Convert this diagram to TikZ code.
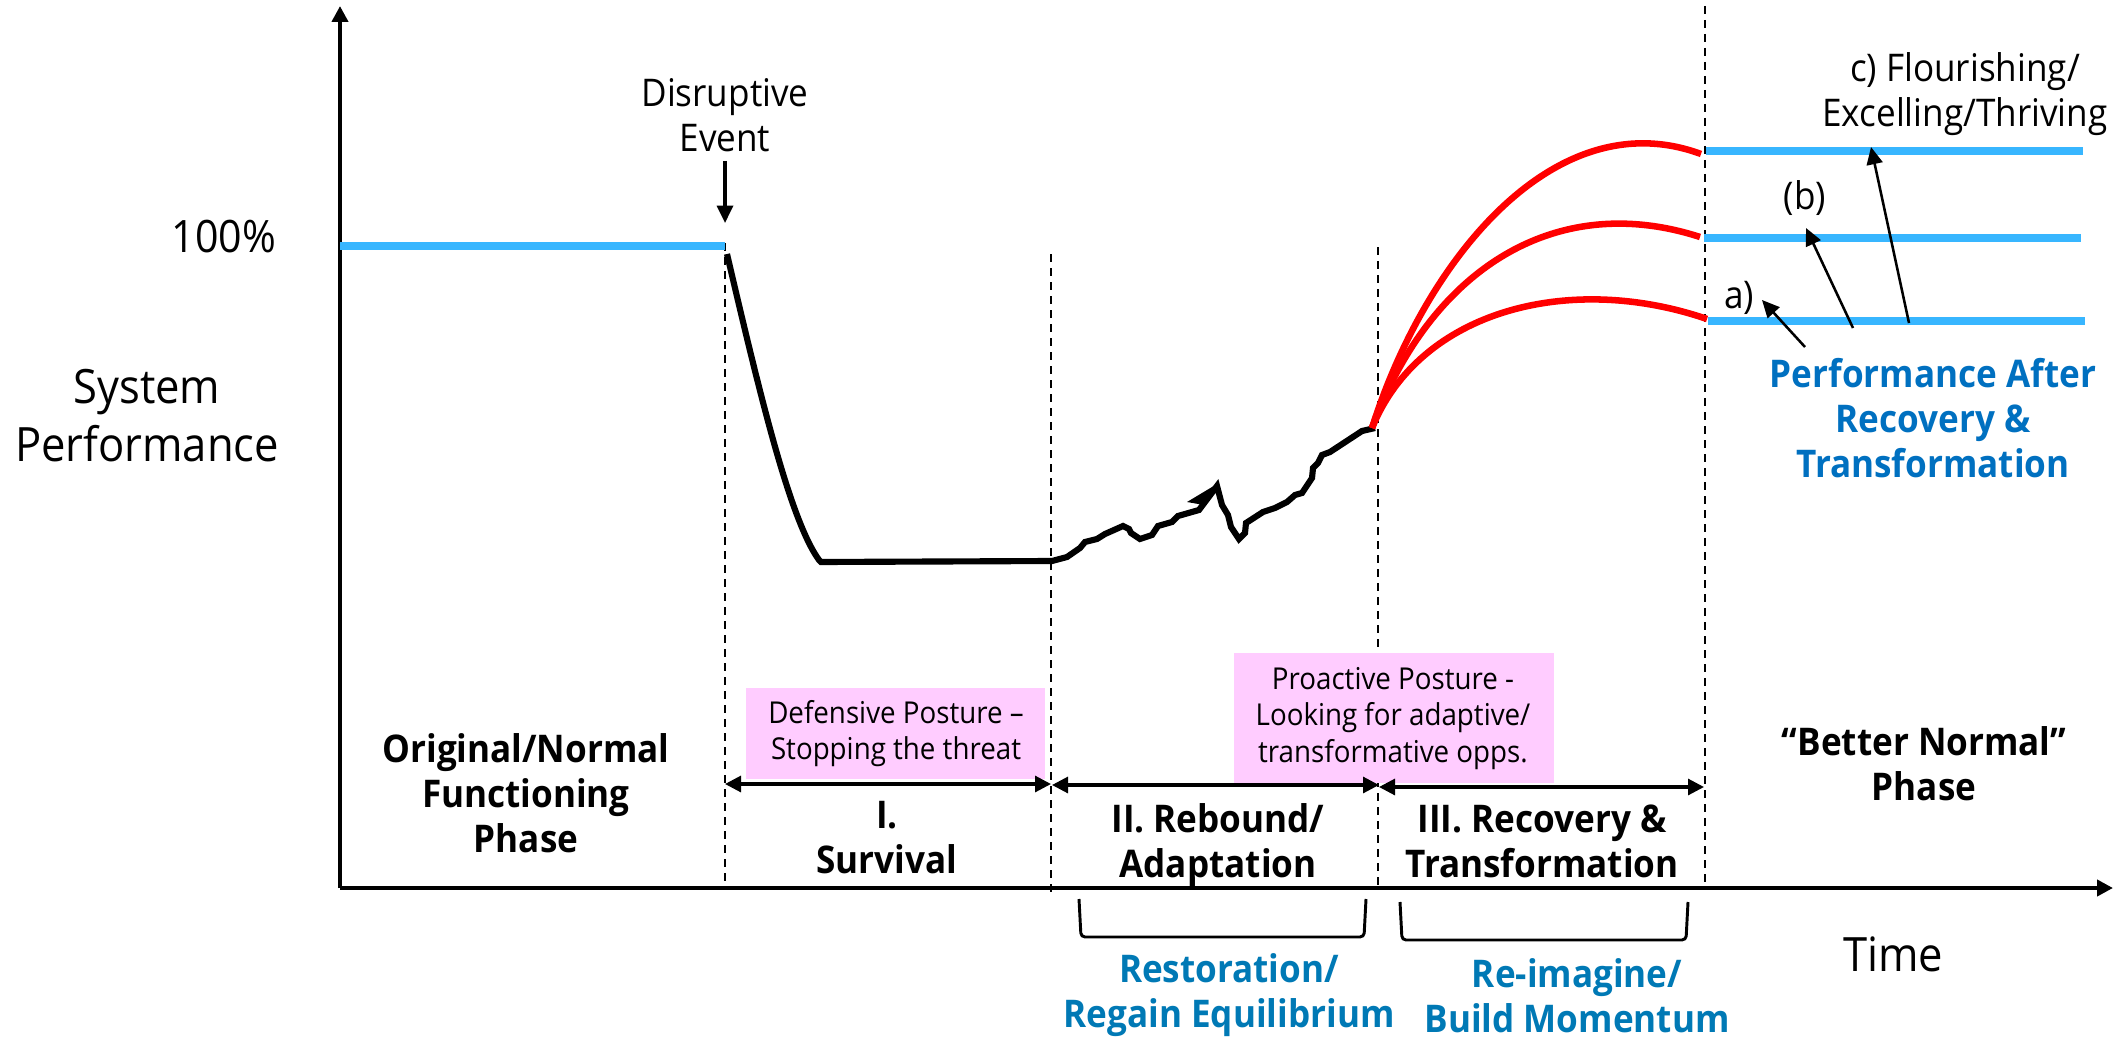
\documentclass[tikz,border=0pt]{standalone}
\usepackage{fontspec}
\setmainfont[FakeStretch=0.92]{Open Sans}
\usetikzlibrary{arrows.meta}
\definecolor{skyline}{HTML}{38B6FF}
\definecolor{pinkbox}{HTML}{FFCCFF}
\definecolor{perfblue}{HTML}{0070C0}
\definecolor{restblue}{HTML}{0079B5}
\definecolor{redline}{HTML}{FF0000}
\newcommand{\fsz}[2]{\fontsize{#1}{#2}\selectfont}
\tikzset{
  lbl/.style={inner sep=0pt,outer sep=0pt,align=center,text=black},
  biglbl/.style={lbl,font=\fsz{35.5}{43.5}},
  boldlbl/.style={lbl,font=\fsz{28.6}{33.7}\bfseries},
  bluelbl/.style={lbl,font=\fsz{28.6}{33.7}\bfseries},
  midlbl/.style={lbl,font=\fsz{28.6}{33.7}},
  pinklbl/.style={lbl,font=\fsz{22.6}{27.5}},
  pinkfill/.style={fill=pinkbox,draw=none},
  dashline/.style={draw=black,line width=1.3pt,dash pattern=on 6pt off 4.5pt},
  axisline/.style={draw=black,line width=3pt,-{Triangle[length=12pt,width=12pt]}},
  levelline/.style={draw=skyline,line width=6pt},
  redcurve/.style={draw=redline,line width=4.9pt},
  blackcurve/.style={draw=black,line width=4.6pt,line join=miter},
  span/.style={draw=black,line width=2.3pt,{Triangle[length=12pt,width=12pt]}-{Triangle[length=12pt,width=12pt]}},
  pointer/.style={draw=black,line width=1.9pt,-{Triangle[length=13pt,width=12pt]}},
  downarrow/.style={draw=black,line width=2.5pt,-{Triangle[length=13pt,width=12pt]}},
  bracketline/.style={draw=black,line width=2.2pt,rounded corners=3pt},
}
\begin{document}
\begin{tikzpicture}[x=0.75pt,y=-0.75pt]
\useasboundingbox (0,0) rectangle (2116,1038);
% phase dividers
\coordinate (d1t) at (725,243); \coordinate (d1b) at (725,888);
\coordinate (d2t) at (1051,254); \coordinate (d2b) at (1051,892);
\coordinate (d3t) at (1378,247); \coordinate (d3b) at (1378,885);
\coordinate (d4t) at (1705,6); \coordinate (d4b) at (1705,885);
\draw[dashline] (d1t) -- (d1b);
\draw[dashline] (d2t) -- (d2b);
\draw[dashline] (d3t) -- (d3b);
\draw[dashline] (d4t) -- (d4b);
% pink boxes
\node[pinkfill,minimum width=299*0.75pt,minimum height=91*0.75pt,inner sep=0pt] (pinka) at (895.5,733.5) {};
\node[pinkfill,minimum width=320*0.75pt,minimum height=130*0.75pt,inner sep=0pt] (pinkb) at (1394,718) {};
\node[pinklbl] (pinkatxt) at (896,733.5) {Defensive Posture –\\Stopping the threat};
\node[pinklbl] (pinkbtxt) at (1393,718.5) {Proactive Posture -\\Looking for adaptive/\\transformative opps.};
% axes
\coordinate (origin) at (340,888);
\coordinate (ytop) at (340,6);
\coordinate (xend) at (2113,888);
\draw[axisline] (origin) -- (ytop);
\draw[axisline] (origin) -- (xend);
% level lines
\coordinate (l0a) at (340,246); \coordinate (l0b) at (725,246);
\coordinate (l1a) at (1706,151); \coordinate (l1b) at (2083,151);
\coordinate (l2a) at (1704,238); \coordinate (l2b) at (2081,238);
\coordinate (l3a) at (1708,321); \coordinate (l3b) at (2085,321);
\draw[levelline] (l0a) -- (l0b);
\draw[levelline] (l1a) -- (l1b);
\draw[levelline] (l2a) -- (l2b);
\draw[levelline] (l3a) -- (l3b);
% black performance curve
\draw[blackcurve] (727,254) .. controls (760,395) and (790,520) .. (819,560) -- (821,562) -- (1052,561)
  -- (1067,557) -- (1080,548) -- (1085,542) -- (1097,539) -- (1105,534) -- (1123,526) -- (1129,529)
  -- (1131,533) -- (1140,539) -- (1152,535) -- (1158,526) -- (1172,522) -- (1178,516) -- (1199,510)
  -- (1217,486) -- (1222,505) -- (1228,515) -- (1231,527) -- (1239,539) -- (1245,533) -- (1246,523)
  -- (1263,512) -- (1275,508) -- (1287,502) -- (1295,495) -- (1302,493) -- (1312,478) -- (1313,468)
  -- (1318,463) -- (1322,455) -- (1330,452) -- (1362,431) -- (1375,428);
\fill[black] (1187,502) -- (1217,484) -- (1204,505) -- cycle;
% red curves
\coordinate (rs) at (1372,428);
\draw[redcurve] (rs) .. controls (1425,260) and (1555,100) .. (1701,154);
\draw[redcurve] (rs) .. controls (1430,270) and (1555,190) .. (1700,237);
\draw[redcurve] (rs) .. controls (1420,310) and (1570,272) .. (1707,319);
% pointer arrows
\coordinate (pa0) at (1805,347); \coordinate (pa1) at (1762,300);
\coordinate (pb0) at (1853,328); \coordinate (pb1) at (1806,228);
\coordinate (pc0) at (1909,323); \coordinate (pc1) at (1871,147);
\draw[pointer] (pa0) -- (pa1);
\draw[pointer] (pb0) -- (pb1);
\draw[pointer] (pc0) -- (pc1);
% spans
\coordinate (s1a) at (725,784); \coordinate (s1b) at (1051,784);
\coordinate (s2a) at (1052,785); \coordinate (s2b) at (1379,785);
\coordinate (s3a) at (1379,787); \coordinate (s3b) at (1704,787);
\draw[span] (s1a) -- (s1b);
\draw[span] (s2a) -- (s2b);
\draw[span] (s3a) -- (s3b);
% disruptive event arrow
\node[midlbl] (event) at (725,115.5) {Disruptive\\Event};
\coordinate (evtip) at (725,223);
\draw[downarrow] (725,161) -- (evtip);
% brackets
\draw[bracketline] (1079,899) -- (1081,937) -- (1364,937) -- (1366,899);
\draw[bracketline] (1400,902) -- (1402,940) -- (1686,940) -- (1688,902);
% labels
\node[lbl,font=\fsz{33.5}{40}] (hundred) at (224,237) {100\%};
\node[biglbl] (sysperf) at (147,416) {System\\Performance};
\node[biglbl] (timelbl) at (1893,954) {Time};
\node[boldlbl] (orig) at (526,793) {Original/Normal\\Functioning\\Phase};
\node[boldlbl] (surv) at (887,838) {I.\\Survival};
\node[boldlbl] (rebound) at (1218,845) {II. Rebound/\\Adaptation};
\node[boldlbl] (recov) at (1542,841) {III. Recovery \&\\Transformation};
\node[boldlbl] (better) at (1924,764) {“Better Normal”\\Phase};
\node[bluelbl,text=perfblue] (perf) at (1933,418) {Performance After\\Recovery \&\\Transformation};
\node[bluelbl,text=restblue] (rest) at (1229,995.5) {Restoration/\\Regain Equilibrium};
\node[bluelbl,text=restblue] (reim) at (1577,996) {Re-imagine/\\Build Momentum};
\node[midlbl] (flour) at (1965,94.5) {c) Flourishing/\\Excelling/Thriving};
\node[midlbl] (lblb) at (1805,198) {(b)};
\node[midlbl] (lbla) at (1739,298) {a)};
\end{tikzpicture}
\end{document}
